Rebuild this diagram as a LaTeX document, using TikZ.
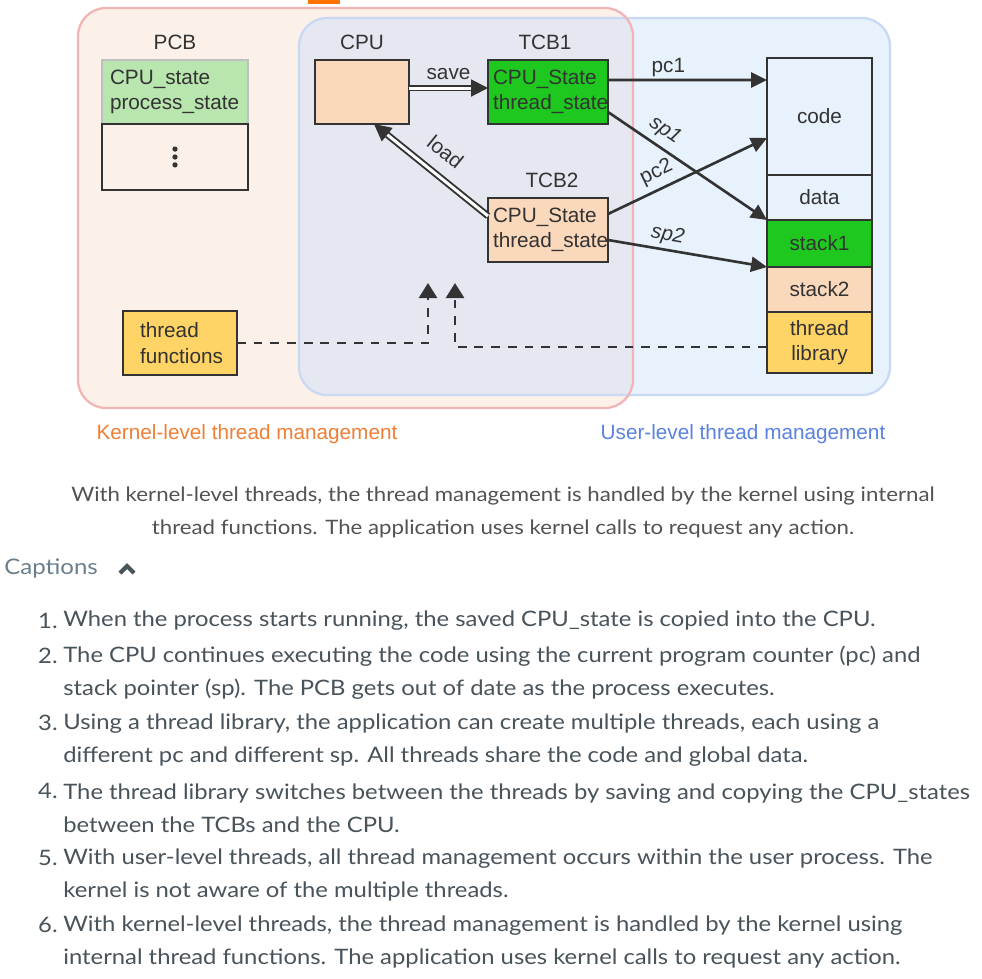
\documentclass[tikz,border=0pt]{standalone}
\usepackage{fontspec}
\setmainfont{Liberation Sans}
\newfontfamily\capfont{Lato}[FakeStretch=1.12]
\usetikzlibrary{arrows.meta}

\definecolor{kernbg}{HTML}{FCF1E9}
\definecolor{kernline}{HTML}{F2B5B5}
\definecolor{userbg}{HTML}{E8F2FD}
\definecolor{userline}{HTML}{C9D8F3}
\definecolor{bothbg}{HTML}{E5E8F1}
\definecolor{peach}{HTML}{FAD8BB}
\definecolor{tcbgreen}{HTML}{1EC81E}
\definecolor{pcbgreen}{HTML}{B9E5AE}
\definecolor{thyellow}{HTML}{FFD466}
\definecolor{ink}{HTML}{333333}
\definecolor{kernlabel}{HTML}{EE7F36}
\definecolor{userlabel}{HTML}{5A82E0}
\definecolor{captext}{HTML}{48535A}
\definecolor{captitle}{HTML}{6A7E8C}

\tikzset{
  box/.style={draw=ink, line width=1.5pt, inner sep=0pt, outer sep=0pt},
  statebox/.style={box, minimum width=2.4cm, minimum height=1.28cm,
    text width=2.2cm, align=left, text=ink},
  membox/.style={box, minimum width=2.1cm, text=ink, align=center},
  ptr/.style={ink, line width=1.5pt, -{Triangle[length=0.32cm,width=0.3cm]}},
  move/.style={ink, line width=1.1pt, double=white, double distance=1.7pt,
    -{Triangle[length=0.34cm,width=0.34cm]}},
  call/.style={ink, line width=1.5pt, dash pattern=on 5pt off 4.5pt,
    -{Triangle[length=0.3cm,width=0.36cm]}},
  capline/.style={font=\capfont\fontsize{12.1}{18.7}\selectfont, text=captext,
    inner sep=0pt, align=left}
}

\begin{document}
\begin{tikzpicture}[x=0.02cm, y=-0.02cm, font=\fontsize{11.8}{14.5}\selectfont]
\useasboundingbox (0,0) rectangle (982,978);
\fill[white] (0,0) rectangle (982,978);

% the two management areas
\fill[orange!90!red] (308,0) rectangle (340,4);
\fill[kernbg, rounded corners=16pt] (78,8) rectangle (633,408);
\fill[userbg, rounded corners=16pt] (299,18) rectangle (890,395);
\begin{scope}
  \clip[rounded corners=16pt] (78,8) rectangle (633,408);
  \fill[bothbg, rounded corners=16pt] (299,18) rectangle (890,395);
\end{scope}
\draw[userline, line width=1.3pt, rounded corners=16pt] (299,18) rectangle (890,395);
\draw[kernline, line width=1.3pt, rounded corners=16pt] (78,8) rectangle (633,408);

% PCB
\node[text=ink] (pcblabel) at (175,42) {PCB};
\node[draw=black!25, fill=pcbgreen, line width=1.5pt, minimum width=2.92cm,
  minimum height=1.28cm, inner sep=0pt, outer sep=0pt, text width=2.6cm, align=left, text=ink]
  (pcbtop) at (175,92) {CPU\_state\\process\_state};
\node[box, fill=kernbg, minimum width=2.92cm, minimum height=1.32cm,
  anchor=north] (pcbrest) at (pcbtop.south) {};
\foreach \dy in {-4.5pt,0pt,4.5pt}
  \fill[ink] ([yshift=\dy]pcbrest.center) circle (1.5pt);

% CPU and TCBs
\node[text=ink] (cpulabel) at (362,42) {CPU};
\node[box, fill=peach, minimum width=1.88cm, minimum height=1.28cm] (cpu) at (362,92) {};
\node[text=ink] (tcb1label) at (545,42) {TCB1};
\node[statebox, fill=tcbgreen] (tcb1) at (548,92) {CPU\_State\\thread\_state};
\node[text=ink] (tcb2label) at (552,180) {TCB2};
\node[statebox, fill=peach] (tcb2) at (548,230) {CPU\_State\\thread\_state};

\draw[move] ([yshift=0.08cm]cpu.east) -- node[above=1pt, text=ink] (savelabel) {save}
  ([yshift=0.08cm]tcb1.west);
\draw[move] ([yshift=0.28cm]tcb2.west) -- node[sloped, above=5pt, text=ink] (loadlabel) {load}
  ([xshift=0.24cm]cpu.south);

% memory of the process
\node[membox, fill=userbg, minimum height=2.34cm] (code) at (819.5,116.5) {code};
\node[membox, fill=userbg, minimum height=0.9cm, anchor=north] (data) at (code.south) {data};
\node[membox, fill=tcbgreen, minimum height=0.94cm, anchor=north] (stack1) at (data.south) {stack1};
\node[membox, fill=peach, minimum height=0.9cm, anchor=north] (stack2) at (stack1.south) {stack2};
\node[membox, fill=thyellow, minimum height=1.22cm, anchor=north] (thlib) at (stack2.south) {thread\\library};

\draw[ptr] ([yshift=0.24cm]tcb1.east) -- node[pos=0.38, above=-2pt, text=ink] (pc1label) {pc1}
  ([yshift=0.73cm]code.west);
\draw[ptr] ([yshift=-0.4cm]tcb1.east) -- node[pos=0.3, sloped, above=0pt, text=ink] (sp1label) {\itshape sp1}
  (stack1.north west);
\draw[ptr] ([yshift=0.32cm]tcb2.east) -- node[pos=0.35, sloped, above=0pt, text=ink] (pc2label) {pc2}
  ([yshift=-0.43cm]code.west);
\draw[ptr] ([yshift=-0.2cm]tcb2.east) -- node[pos=0.36, sloped, above=-1pt, text=ink] (sp2label) {\itshape sp2}
  (stack1.south west);

% thread functions and calls
\node[box, fill=thyellow, minimum width=2.28cm, minimum height=1.28cm,
  text width=1.6cm, align=left, text=ink] (thfun) at (180,343) {thread\\functions};
\coordinate (kcall) at (428,283);
\coordinate (ucall) at (455,283);
\draw[call] (thfun.east) -| (kcall);
\draw[call] ([yshift=-0.09cm]thlib.west) -| (ucall);

\node[text=kernlabel] (kernname) at (247,434) {Kernel-level thread management};
\node[text=userlabel] (username) at (743,434) {User-level thread management};

% caption text
\node[capline, text=black!68, align=center, font=\capfont\fontsize{11.3}{18.7}\selectfont]
  (summary) at (503,512)
  {With kernel-level threads, the thread management is handled by the kernel using internal\\
   thread functions. The application uses kernel calls to request any action.};
\node[capline, text=captitle, font=\capfont\fontsize{12.2}{15}\selectfont, anchor=west]
  (captions) at (4,568) {Captions};
\draw[captext, line width=2.4pt] (120,573) -- (127,566) -- (134,573);

\node[capline, anchor=east] (n1) at (58,621) {1.};
\node[capline, anchor=west] (c1) at (63,621)
  {When the process starts running, the saved CPU\_state is copied into the CPU.};
\node[capline, anchor=east] (n2) at (58,656) {2.};
\node[capline, anchor=west] (c2) at (63,673)
  {The CPU continues executing the code using the current program counter (pc) and\\
   stack pointer (sp). The PCB gets out of date as the process executes.};
\node[capline, anchor=east] (n3) at (58,723) {3.};
\node[capline, anchor=west] (c3) at (63,740)
  {Using a thread library, the application can create multiple threads, each using a\\
   different pc and different sp. All threads share the code and global data.};
\node[capline, anchor=east] (n4) at (58,791) {4.};
\node[capline, anchor=west] (c4) at (63,808)
  {The thread library switches between the threads by saving and copying the CPU\_states\\
   between the TCBs and the CPU.};
\node[capline, anchor=east] (n5) at (58,858) {5.};
\node[capline, anchor=west] (c5) at (63,875)
  {With user-level threads, all thread management occurs within the user process. The\\
   kernel is not aware of the multiple threads.};
\node[capline, anchor=east] (n6) at (58,925) {6.};
\node[capline, anchor=west] (c6) at (63,942)
  {With kernel-level threads, the thread management is handled by the kernel using\\
   internal thread functions. The application uses kernel calls to request any action.};
\end{tikzpicture}
\end{document}
